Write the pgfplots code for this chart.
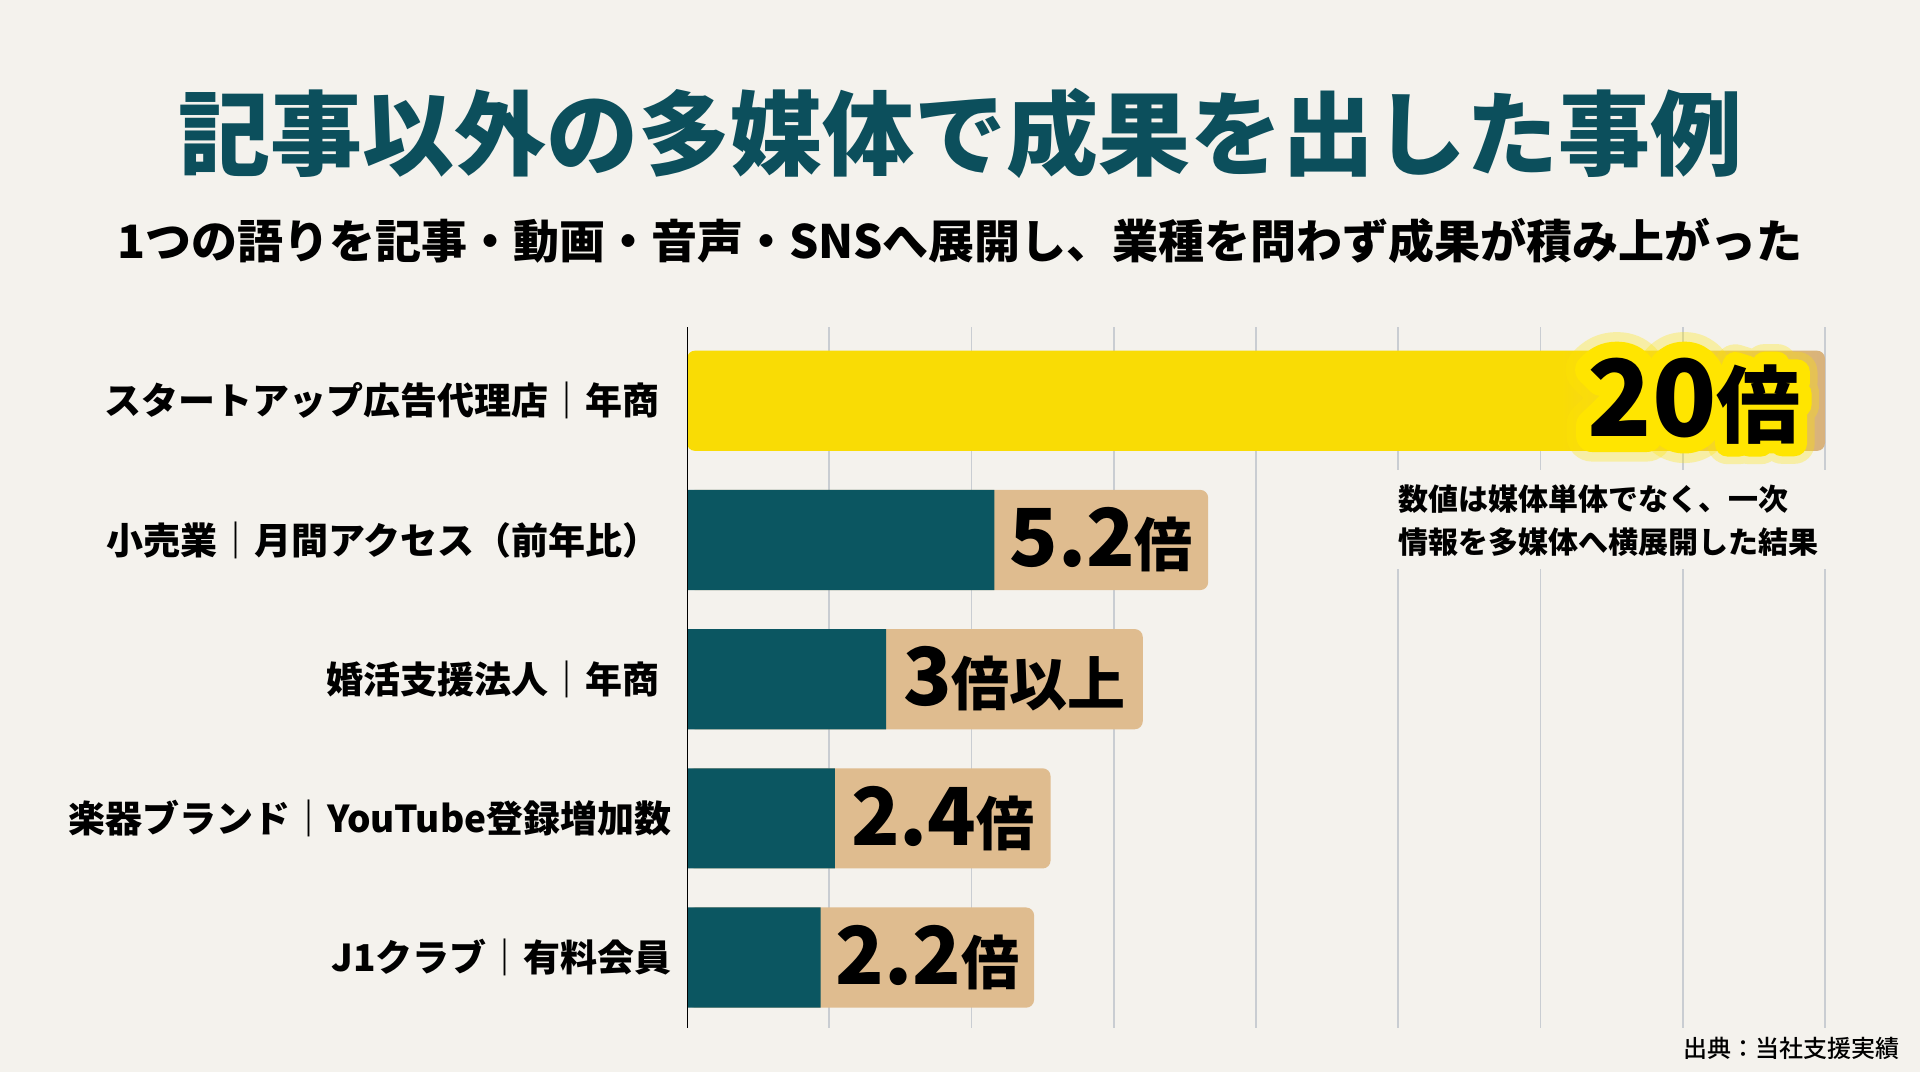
\documentclass[border=0pt]{standalone}
\usepackage{fontspec}
\usepackage{pgfplots}
\pgfplotsset{compat=1.18}

\newfontfamily\jp{Noto Sans CJK JP}
\IfFontExistsTF{Noto Sans CJK JP Black}
  {\newfontfamily\jpblack{Noto Sans CJK JP Black}
   \newfontfamily\jphalo{Noto Sans CJK JP Black}[FakeBold=30]
   \newfontfamily\jpsoft{Noto Sans CJK JP Black}[FakeBold=48]}
  {\newcommand\jpblack{\jp\bfseries}
   \newfontfamily\jphalo{Noto Sans CJK JP}[UprightFeatures={FakeBold=32}]
   \newfontfamily\jpsoft{Noto Sans CJK JP}[UprightFeatures={FakeBold=50}]}
\IfFontExistsTF{Noto Sans CJK JP Medium}
  {\newfontfamily\jpmed{Noto Sans CJK JP Medium}}
  {\newcommand\jpmed{\jp}}

\definecolor{bgcol}{HTML}{F4F2ED}
\definecolor{tealbar}{HTML}{0B5661}
\definecolor{titleteal}{HTML}{0C4F5C}
\definecolor{yelbar}{HTML}{F9DC05}
\definecolor{yelmid}{HTML}{EFCB45}
\definecolor{halo}{HTML}{FFE500}
\definecolor{tanbox}{HTML}{DFBC8F}
\definecolor{tanend}{HTML}{D8B27E}
\definecolor{gridcol}{HTML}{C9CDD2}

% yellow bar fades into tan under the 20x label
\pgfdeclarehorizontalshading{yelfade}{100bp}{color(0bp)=(yelbar); color(63.4bp)=(yelbar); color(69bp)=(yelmid); color(75bp)=(tanend); color(100bp)=(tanend)}

\newcommand\val[2]{{\fontsize{40}{40}\selectfont #1}{\fontsize{29}{29}\selectfont #2}}
\newcommand\bigval[1]{{#1{\fontsize{53}{53}\selectfont 20}{\fontsize{42}{42}\selectfont 倍}}}
% round joins for the stroked (fake bold) halo copies
\newcommand\roundjoin{\special{pdf:literal direct 1 j 1 J}}

\begin{document}
\begin{tikzpicture}
\fill[bgcol] (0,0) rectangle (960pt,536pt);

\node[font=\jpblack\fontsize{46}{50}\selectfont, text=titleteal] at (480pt,469.5pt) {記事以外の多媒体で成果を出した事例};
\node[font=\jp\bfseries\fontsize{23}{26}\selectfont] at (480pt,415.5pt) {1つの語りを記事・動画・音声・SNSへ展開し、業種を問わず成果が積み上がった};

\begin{axis}[
    at={(343.5pt,22pt)}, anchor=south west,
    scale only axis, width=569pt, height=350.5pt,
    xmin=0, xmax=20,
    ymin=-0.53, ymax=4.506, y dir=reverse,
    xtick={2.5,5,...,20}, xticklabels={},
    xmajorgrids,
    grid style={gridcol, line width=0.8pt},
    ytick={0,1,2,3,4},
    yticklabels={スタートアップ広告代理店｜年商, 小売業｜月間アクセス（前年比）, 婚活支援法人｜年商, 楽器ブランド｜YouTube登録増加数\kern-6pt, J1クラブ｜有料会員\kern-6pt},
    yticklabel style={font=\jp\bfseries\fontsize{18.5}{20}\selectfont, anchor=east, inner sep=0pt, xshift=-13.5pt},
    major tick length=0pt, tick style={draw=none},
    axis line style={draw=none},
]
% 20x bar (yellow)
\addplot[xbar, bar width=0.72, bar shift=0pt, draw=none, shade, shading=yelfade, rounded corners=4pt]
    coordinates {(20,0)};
% label boxes (tan), end of each box
\addplot[xbar, bar width=0.72, bar shift=0pt, draw=none, fill=tanbox, rounded corners=4pt]
    coordinates {(9.16,1) (8.01,2) (6.39,3) (6.10,4)};
% teal bars
\addplot[xbar, bar width=0.72, bar shift=0pt, draw=none, fill=tealbar]
    coordinates {(5.4,1) (3.5,2) (2.6,3) (2.35,4)};
% axis line
\addplot[black, line width=1.3pt] coordinates {(0,-0.53) (0,4.506)};

\node[font=\jpblack] at (axis cs:7.28,1) {\val{5.2}{倍}};
\node[font=\jpblack] at (axis cs:5.755,2) {\val{3}{倍以上}};
\node[font=\jpblack] at (axis cs:4.495,3) {\val{2.4}{倍}};
\node[font=\jpblack] at (axis cs:4.225,4) {\val{2.2}{倍}};
\coordinate (c20) at (axis cs:17.70,0);
\end{axis}

% 20x label with yellow halo
\begin{scope}
\node[text=halo, opacity=0.3] at (c20) {\roundjoin\bigval{\jpsoft}};
\node[text=halo] at (c20) {\roundjoin\bigval{\jphalo}};
\end{scope}
\node[text=black] at (c20) {\bigval{\jpblack}};

% note
\fill[bgcol] (696pt,251.5pt) rectangle (917pt,301pt);
\node[anchor=west, inner sep=0pt, font=\jp\bfseries\fontsize{15}{17}\selectfont] at (699pt,286.5pt) {数値は媒体単体でなく、一次};
\node[anchor=west, inner sep=0pt, font=\jp\bfseries\fontsize{15}{17}\selectfont] at (699pt,265pt) {情報を多媒体へ横展開した結果};

\node[anchor=east, inner sep=0pt, font=\jpmed\fontsize{12}{14}\selectfont] at (950pt,12pt) {出典：当社支援実績};

\pgfresetboundingbox
\useasboundingbox (0,0) rectangle (960pt,536pt);
\end{tikzpicture}
\end{document}
